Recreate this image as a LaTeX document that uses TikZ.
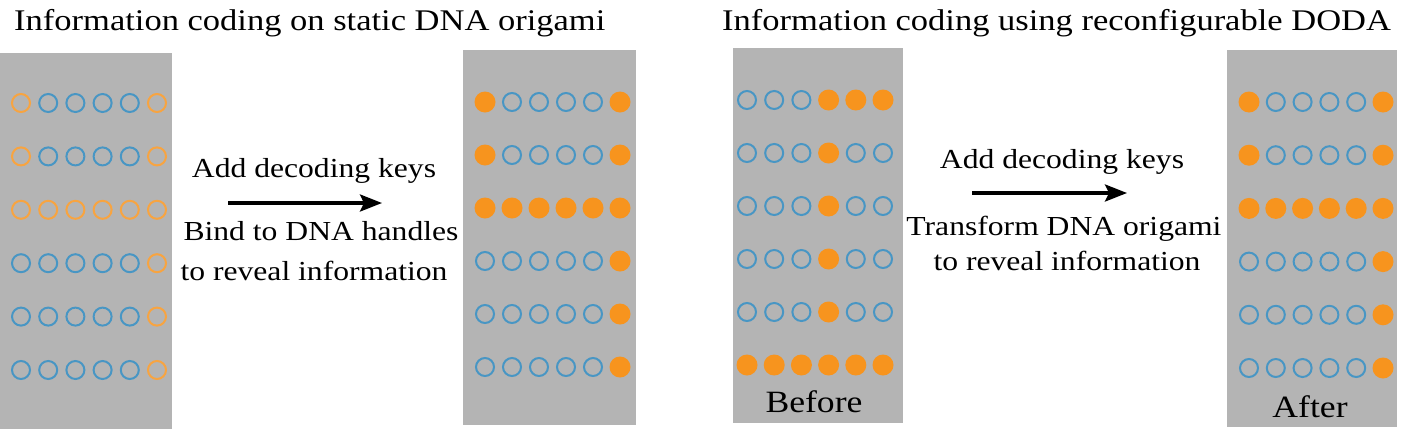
\documentclass[tikz,border=0pt]{standalone}
\usepackage{fontspec}
\setmainfont{Liberation Serif}[FakeStretch=1.15]
\usetikzlibrary{arrows.meta,positioning}

\definecolor{panelgray}{RGB}{180,180,180}
\definecolor{dotblue}{RGB}{72,150,196}
\definecolor{dotorange}{RGB}{247,148,30}

\begin{document}
\begin{tikzpicture}[x=1pt,y=-1pt,
    panel/.style={rectangle,fill=panelgray,draw=none,inner sep=0pt},
    bl/.style={circle,draw=dotblue,line width=2pt,minimum size=18pt,inner sep=0pt},
    og/.style={circle,draw=dotorange!85!white,line width=2pt,minimum size=18pt,inner sep=0pt},
    of/.style={circle,fill=dotorange,minimum size=21pt,inner sep=0pt},
    title/.style={font=\fontsize{30}{36}\selectfont,anchor=base west,inner sep=0pt},
    step text/.style={font=\fontsize{27.5}{33}\selectfont,anchor=base,inner sep=0pt},
    tag/.style={font=\fontsize{31}{36}\selectfont,anchor=base,inner sep=0pt},
    keyarrow/.style={line width=3.5pt,-{Stealth[length=22pt,width=17pt,inset=4pt]}}]
  \useasboundingbox (0,0) rectangle (1403,429);

  \node[title] (t1) at (14,30) {Information coding on static DNA origami};
  \node[title] (t2) at (722,30) {Information coding using reconfigurable DODA};

  \node[panel,minimum width=172pt,minimum height=376pt] (p1) at (86,241) {};
  \node[panel,minimum width=173pt,minimum height=375pt] (p2) at (549.5,237.5) {};
  \node[panel,minimum width=170pt,minimum height=375pt] (p3) at (818,235.5) {};
  \node[panel,minimum width=170pt,minimum height=377pt] (p4) at (1312,238.5) {};

  % static origami, before and after keys
  \foreach \row [count=\ri] in {{og,bl,bl,bl,bl,og},{og,bl,bl,bl,bl,og},{og,og,og,og,og,og},
      {bl,bl,bl,bl,bl,og},{bl,bl,bl,bl,bl,og},{bl,bl,bl,bl,bl,og}}
    \foreach \kind [count=\ci] in \row
      \node[\kind] (st-\ri-\ci) at ({21+27.2*(\ci-1)},{103+53.4*(\ri-1)}) {};
  \foreach \row [count=\ri] in {{of,bl,bl,bl,bl,of},{of,bl,bl,bl,bl,of},{of,of,of,of,of,of},
      {bl,bl,bl,bl,bl,of},{bl,bl,bl,bl,bl,of},{bl,bl,bl,bl,bl,of}}
    \foreach \kind [count=\ci] in \row
      \node[\kind] (dec-\ri-\ci) at ({485+27*(\ci-1)},{102+53*(\ri-1)}) {};

  % DODA, before and after
  \foreach \row [count=\ri] in {{bl,bl,bl,of,of,of},{bl,bl,bl,of,bl,bl},{bl,bl,bl,of,bl,bl},
      {bl,bl,bl,of,bl,bl},{bl,bl,bl,of,bl,bl},{of,of,of,of,of,of}}
    \foreach \kind [count=\ci] in \row
      \node[\kind] (bef-\ri-\ci) at ({747+27.2*(\ci-1)},{100+53*(\ri-1)}) {};
  \foreach \row [count=\ri] in {{of,bl,bl,bl,bl,of},{of,bl,bl,bl,bl,of},{of,of,of,of,of,of},
      {bl,bl,bl,bl,bl,of},{bl,bl,bl,bl,bl,of},{bl,bl,bl,bl,bl,of}}
    \foreach \kind [count=\ci] in \row
      \node[\kind] (aft-\ri-\ci) at ({1249+26.8*(\ci-1)},{102+53.2*(\ri-1)}) {};

  \node[tag] (before) at (814,412) {Before};
  \node[tag] (after) at (1310,417) {After};

  % keys and arrows
  \node[step text] (k1) at (314,177) {Add decoding keys};
  \coordinate (k1s) at (228,203);
  \coordinate (k1e) at (382,203);
  \draw[keyarrow] (k1s) -- (k1e);
  \node[step text] (b1) at (321,240) {Bind to DNA handles};
  \node[step text] (r1) at (314,280) {to reveal information};

  \node[step text] (k2) at (1062,168) {Add decoding keys};
  \coordinate (k2s) at (972,193);
  \coordinate (k2e) at (1127,193);
  \draw[keyarrow] (k2s) -- (k2e);
  \node[step text] (b2) at (1064,235) {Transform DNA origami};
  \node[step text] (r2) at (1067,270) {to reveal information};
\end{tikzpicture}
\end{document}
